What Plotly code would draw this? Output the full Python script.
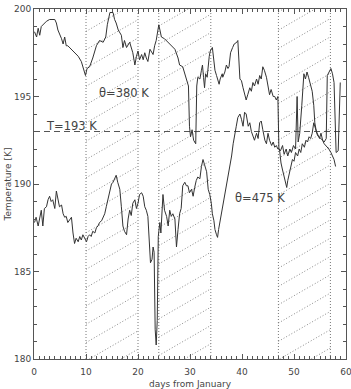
import plotly.graph_objects as go
import numpy as np

# ---- data ----
theta380_days = [0.1,0.5,0.8,1.1,1.4,1.7,2.4,3.0,4.0,4.3,4.6,5.3,5.6,5.9,6.2,6.5,7.2,7.8,8.5,9.1,9.4,9.8,9.9,
                 10.2,10.7,11.3,12.0,12.6,13.3,13.8,14.1,14.6,15.2,15.5,15.8,16.2,16.8,17.1,17.4,17.8,18.4,19.0,
                 19.4,19.7,20.0,20.3,20.7,21.0,21.3,21.6,21.9,22.3,22.9,23.2,23.5,24.0,24.5,25.1,25.8,26.4,27.1,
                 27.7,28.0,28.6,29.0,29.4,29.7,29.9,30.1,30.4,30.7,31.1,31.3,31.5,31.9,32.2,32.4,32.6,32.8,33.0,
                 33.3,33.7,33.9,34.3,34.6,34.8,35.1,35.4,35.6,35.8,36.2,36.3,36.7,37.0,37.3,37.5,37.8,38.2,38.5,
                 39.0,39.2,39.6,39.9,40.2,40.5,40.8,41.1,41.5,41.8,42.1,42.4,42.8,43.1,43.4,43.7,44.0,44.3,44.7,
                 45.0,45.3,45.6,46.0,46.3,46.6,46.9,47.1,47.4,47.8,48.1,48.5,48.8,49.2,49.5,49.9,50.3,50.6,50.8,
                 51.1,51.5,51.9,52.2,52.5,52.8,53.2,53.5,53.8,54.0,54.3,54.6,54.9,55.2,55.5,55.8,56.2,56.4,56.7,
                 57.1,57.4,57.7,58.1,58.5,58.9]
theta380_temp = [198.7,198.4,198.9,198.5,199.0,199.1,199.3,199.4,199.4,199.2,198.8,198.3,198.0,198.4,197.9,197.9,
                 197.7,197.5,197.3,197.0,196.7,196.4,196.2,196.6,196.7,197.2,197.9,198.2,198.1,198.4,199.1,199.8,
                 199.8,199.4,199.2,198.8,198.5,197.8,198.2,197.8,198.1,197.5,196.8,197.3,197.6,197.1,197.4,197.1,
                 197.5,197.2,197.0,197.7,197.4,197.9,198.2,199.1,198.4,198.3,198.1,197.9,197.7,197.2,196.8,196.7,
                 196.3,196.0,195.6,193.3,192.7,193.1,192.5,192.3,195.6,196.1,196.0,196.5,196.8,196.1,195.5,196.3,
                 196.1,197.3,197.6,197.8,197.1,196.5,196.2,195.9,195.7,196.0,196.3,196.1,196.4,196.8,196.6,196.7,
                 197.5,197.8,198.0,198.1,198.2,196.0,195.9,195.5,195.2,194.8,195.1,195.5,195.3,195.8,195.6,196.0,
                 195.7,196.2,196.0,196.7,196.5,196.1,195.6,195.1,195.4,195.0,195.0,194.8,195.0,192.0,191.9,192.2,
                 191.7,192.0,191.6,192.0,191.8,192.2,192.0,195.0,192.4,192.9,194.5,196.3,196.0,196.4,196.1,195.6,
                 195.3,194.5,193.5,193.0,192.8,192.6,192.9,192.5,192.4,192.6,196.2,196.4,196.6,196.3,195.8,191.8,
                 191.9,195.8]

theta475_days = [0.1,0.4,0.8,1.1,1.4,1.7,2.0,2.4,2.7,3.0,3.3,3.6,4.0,4.3,4.6,4.9,5.3,5.6,5.9,6.2,6.5,6.9,7.2,7.5,
                 7.8,8.1,8.5,8.8,9.1,9.4,9.7,10.1,10.4,10.7,11.0,11.3,11.7,12.0,12.3,12.6,13.0,13.3,13.6,13.9,14.2,
                 14.6,14.9,15.2,15.5,15.8,16.1,16.5,16.8,17.1,17.4,17.8,18.1,18.4,18.7,19.0,19.4,19.7,20.0,20.3,
                 20.7,21.0,21.3,21.6,21.9,22.2,22.4,22.7,22.9,23.1,23.3,23.5,23.7,23.9,24.2,24.4,24.6,24.8,25.1,
                 25.5,25.8,26.1,26.4,26.7,27.1,27.4,27.7,28.0,28.3,28.6,29.0,29.3,29.6,29.9,30.3,30.6,30.9,31.2,
                 31.5,31.9,32.2,32.5,32.8,33.2,33.5,33.8,34.1,34.3,34.6,34.8,35.1,35.3,35.5,35.8,36.2,36.5,36.8,
                 37.0,37.3,37.6,38.0,38.3,38.6,38.9,39.2,39.6,39.9,40.2,40.5,40.8,41.2,41.5,41.8,42.1,42.4,42.8,
                 43.1,43.4,43.7,44.0,44.4,44.7,45.0,45.3,45.7,46.0,46.3,46.6,46.9,47.2,47.5,47.8,48.1,48.4,48.6,
                 48.8,49.1,49.4,49.7,50.0,50.3,50.7,51.0,51.3,51.6,52.0,52.3,52.6,52.9,53.2,53.5,53.8,54.2,54.5,
                 54.8,55.1,55.5,55.8,56.1,56.4,56.7,57.1,57.4,57.7,58.0]
theta475_temp = [187.8,188.1,187.6,188.15,188.5,187.6,188.6,188.7,189.1,189.3,189.0,189.1,188.6,189.6,189.1,188.7,
                 188.8,188.3,188.1,188.15,187.8,188.0,188.1,187.2,186.6,186.9,186.7,187.0,186.8,187.1,186.9,186.7,
                 187.0,187.1,187.0,187.3,187.2,187.5,187.6,187.8,187.9,188.15,188.3,188.7,189.1,189.6,190.0,190.1,
                 190.3,190.5,190.1,189.7,188.7,187.6,187.3,187.1,188.0,188.5,188.2,188.9,189.1,188.6,188.9,189.4,
                 189.5,189.3,188.7,188.5,188.15,186.4,185.5,185.7,186.4,186.1,181.7,180.8,182.2,187.0,187.8,187.2,
                 188.7,189.4,188.5,188.15,187.6,188.5,188.15,188.3,188.0,186.4,187.4,188.3,188.6,189.9,190.1,189.9,
                 189.9,189.5,189.7,189.3,189.8,190.2,190.4,190.3,191.0,191.4,191.1,190.7,189.7,189.4,188.9,188.3,
                 187.9,187.4,187.1,186.95,187.4,187.9,188.5,189.1,189.5,189.9,190.4,191.0,191.6,192.3,192.9,193.3,
                 193.8,194.0,193.7,193.3,194.1,194.0,193.3,193.5,193.0,192.7,192.5,192.9,192.6,193.5,193.6,193.1,
                 192.5,192.3,192.9,192.5,192.2,192.4,192.1,192.2,192.0,192.0,191.2,190.8,190.4,190.1,189.8,190.2,
                 190.6,191.0,191.4,191.3,191.8,191.6,192.0,191.8,192.3,192.1,192.5,192.4,192.7,192.6,192.9,193.5,
                 193.1,192.8,192.7,192.6,192.5,192.3,192.2,192.1,192.0,191.8,191.6,191.4,191.0]

hatch_regions = [(10, 20), (24, 34), (47, 57)]
threshold_T = 193
hatch_slope = 0.1715    # K per day (30 deg in device space)
hatch_step = 1.046      # K
hatch_ref = (10, 193.49)

x_range = [0, 60]
y_range = [180, 200]
x_ticks = [0, 10, 20, 30, 40, 50, 60]
y_ticks = [180, 185, 190, 195, 200]

GRAY = "#8a8a8a"
LINE = "#333333"
TXT = "#444444"
FONT = "DejaVu Sans"

fig = go.Figure()

# hatch lines
hx, hy = [], []
for (x0, x1) in hatch_regions:
    d0, t0 = hatch_ref
    for k in range(-40, 40):
        a = t0 + k * hatch_step - hatch_slope * d0
        lo = max(x0, (y_range[0] - a) / hatch_slope)
        hi = min(x1, (y_range[1] - a) / hatch_slope)
        if hi > lo:
            hx += [lo, hi, None]
            hy += [a + hatch_slope * lo, a + hatch_slope * hi, None]
fig.add_trace(go.Scatter(x=hx, y=hy, mode="lines", line=dict(color=GRAY, width=1, dash="1px,2px"),
                         hoverinfo="skip", showlegend=False))

# vertical dotted boundaries
vx, vy = [], []
for (x0, x1) in hatch_regions:
    for xv in (x0, x1):
        vx += [xv, xv, None]
        vy += [y_range[0], y_range[1], None]
fig.add_trace(go.Scatter(x=vx, y=vy, mode="lines", line=dict(color="#777777", width=1, dash="1px,2px"),
                         hoverinfo="skip", showlegend=False))

# threshold
fig.add_trace(go.Scatter(x=x_range, y=[threshold_T, threshold_T], mode="lines",
                         line=dict(color="#555555", width=1, dash="6px,4px"), showlegend=False))

fig.add_trace(go.Scatter(x=theta380_days, y=theta380_temp, mode="lines",
                         line=dict(color=LINE, width=1), name="θ=380 K", showlegend=False))
fig.add_trace(go.Scatter(x=theta475_days, y=theta475_temp, mode="lines",
                         line=dict(color=LINE, width=1), name="θ=475 K", showlegend=False))

ann_font = dict(family=FONT, size=11.5, color=TXT)
fig.add_annotation(x=17.3, y=195.2, text="θ=380 K", showarrow=False, font=ann_font)
fig.add_annotation(x=7.2, y=193.3, text="T=193 K", showarrow=False, font=ann_font)
fig.add_annotation(x=43.4, y=189.2, text="θ=475 K", showarrow=False, font=ann_font)

axis_common = dict(showline=True, linecolor="#555555", linewidth=1, mirror="allticks",
                   ticks="inside", ticklen=5, tickcolor="#555555", showgrid=False, zeroline=False,
                   ticklabeloverflow="allow",
                   tickfont=dict(family=FONT, size=9, color=TXT))

fig.update_xaxes(range=x_range, tickvals=x_ticks, ticklabelstandoff=4,
                 minor=dict(dtick=1, ticklen=3, ticks="inside", tickcolor="#555555"),
                 title=dict(text="days from January", font=dict(family=FONT, size=9, color=TXT), standoff=4),
                 **axis_common)
fig.update_yaxes(range=y_range, tickvals=y_ticks,
                 minor=dict(dtick=1, ticklen=3, ticks="inside", tickcolor="#555555"),
                 title=dict(text="Temperature [K]", font=dict(family=FONT, size=9, color=TXT), standoff=0),
                 **axis_common)

fig.update_layout(width=351, height=389, margin=dict(l=34, r=5, t=9, b=30, autoexpand=False),
                  plot_bgcolor="white", paper_bgcolor="white")

fig.write_html("out.html", config={"displayModeBar": False})
